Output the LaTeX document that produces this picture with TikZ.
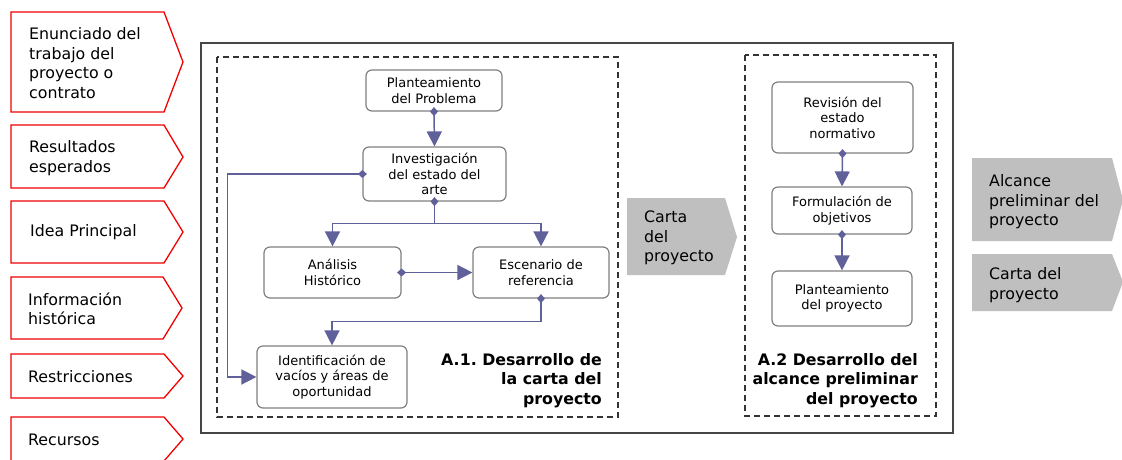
\documentclass[tikz,border=0pt]{standalone}
\usepackage{fontspec}
\setmainfont{DejaVu Sans}
\frenchspacing
\usetikzlibrary{arrows.meta,positioning}
\definecolor{conncol}{RGB}{96,96,155}
\definecolor{redcol}{RGB}{240,0,0}
\definecolor{grayfill}{RGB}{191,191,191}
\definecolor{boxborder}{RGB}{128,128,128}
\definecolor{framecol}{RGB}{70,70,70}
\tikzset{
  x=1pt,y=-1pt,
  inarrow/.style={draw=redcol,line width=1.3pt,fill=white,line join=miter},
  outarrow/.style={fill=grayfill,draw=none},
  bigtxt/.style={anchor=west,align=left,inner sep=0pt,font=\fontsize{15.8}{19.5}\selectfont},
  stepbox/.style={draw=boxborder,line width=1.2pt,rounded corners=6pt,align=center,inner sep=2pt,
    font=\fontsize{13}{15.5}\selectfont},
  conn/.style={draw=conncol,line width=1.5pt,
    arrows={Diamond[length=9pt,width=8pt]-Triangle[length=15pt,width=15pt]},shorten <=-4.5pt},
  connplain/.style={draw=conncol,line width=1.5pt,arrows={-Triangle[length=15pt,width=15pt]}},
  title/.style={align=right,inner sep=0pt,font=\fontsize{15.8}{19.5}\selectfont\bfseries},
  dashbox/.style={draw=black!80,line width=1.2pt,dash pattern=on 6pt off 4pt}
}
\begin{document}
\begin{tikzpicture}
\useasboundingbox (0,0) rectangle (1122,459);
\fill[white] (0,0) rectangle (1122,459);

% input arrows (red outline)
\draw[inarrow] (11,12) -- (164,12) -- (183,62) -- (164,112) -- (11,112) -- cycle;
\node[bigtxt] (in1) at (29,63) {Enunciado del\\trabajo del\\proyecto o\\contrato};
\draw[inarrow] (11,125) -- (164,125) -- (183,157) -- (164,188) -- (11,188) -- cycle;
\node[bigtxt] (in2) at (29,158) {Resultados\\esperados};
\draw[inarrow] (11,201) -- (164,201) -- (183,232) -- (164,263) -- (11,263) -- cycle;
\node[bigtxt] (in3) at (30,232) {Idea Principal};
\draw[inarrow] (11,277) -- (163,277) -- (182,308) -- (163,339) -- (11,339) -- cycle;
\node[bigtxt] (in4) at (28,309) {Información\\histórica};
\draw[inarrow] (11,354) -- (164,354) -- (183,376) -- (164,398) -- (11,398) -- cycle;
\node[bigtxt] (in5) at (28,377) {Restricciones};
\draw[inarrow] (11,417) -- (164,417) -- (183,439) -- (164,461) -- (11,461) -- cycle;
\node[bigtxt] (in6) at (28,440) {Recursos};

% main frame
\draw[draw=framecol,line width=1.6pt] (201,43) rectangle (953,433);

% dashed group boxes
\draw[dashbox] (217,57) rectangle (618,417);
\draw[dashbox] (745,55) rectangle (936,416);

% middle gray arrow
\fill[outarrow] (627,198) -- (725,198) -- (737,237) -- (725,275) -- (627,275) -- cycle;
\node[bigtxt] (mid) at (644,238) {Carta\\del\\proyecto};

% output gray arrows
\fill[outarrow] (972,158) -- (1112,158) -- (1123,200) -- (1112,241) -- (972,241) -- cycle;
\node[bigtxt] (out1) at (989,202) {Alcance\\preliminar del\\proyecto};
\fill[outarrow] (972,254) -- (1112,254) -- (1123,282) -- (1112,311) -- (972,311) -- cycle;
\node[bigtxt] (out2) at (989,285) {Carta del\\proyecto};

% A.1 nodes
\node[stepbox,minimum width=136pt,minimum height=41pt] (pp) at (434,90.5) {Planteamiento\\del Problema};
\node[stepbox,minimum width=143pt,minimum height=54pt] (inv) at (434.5,174) {Investigación\\del estado del\\arte};
\node[stepbox,minimum width=137pt,minimum height=51pt] (an) at (332.5,272.5) {Análisis\\Histórico};
\node[stepbox,minimum width=136pt,minimum height=51pt] (esc) at (541,272.5) {Escenario de\\referencia};
\node[stepbox,minimum width=150pt,minimum height=62pt] (idf) at (332,377) {Identificación de\\vacíos y áreas de\\oportunidad};

% A.2 nodes
\node[stepbox,minimum width=141pt,minimum height=71pt] (rev) at (842.5,117.5) {Revisión del\\estado\\normativo};
\node[stepbox,minimum width=140pt,minimum height=47pt] (form) at (842,210.5) {Formulación de\\objetivos};
\node[stepbox,minimum width=140pt,minimum height=55pt] (pproy) at (842,298.5) {Planteamiento\\del proyecto};

% titles
\node[title,anchor=north east] (t1) at (602,353) {A.1. Desarrollo de\\la carta del\\proyecto};
\node[title,anchor=north east] (t2) at (918,353) {A.2 Desarrollo del\\alcance preliminar\\del proyecto};

% connectors A.1
\draw[conn] (pp.south) -- (inv.north);
\coordinate (fork) at ([yshift=-22pt]inv.south);
\draw[conn] (inv.south) -- (fork) -| (an.north);
\draw[connplain] (fork) -| (esc.north);
\draw[conn] (inv.west) -- ++(-135,0) |- (idf.west);
\draw[conn] (an.east) -- (esc.west);
\draw[conn] (esc.south) -- ++(0,23) -| (idf.north);

% connectors A.2
\draw[conn] (rev.south) -- (form.north);
\draw[conn] (form.south) -- (pproy.north);
\end{tikzpicture}
\end{document}
